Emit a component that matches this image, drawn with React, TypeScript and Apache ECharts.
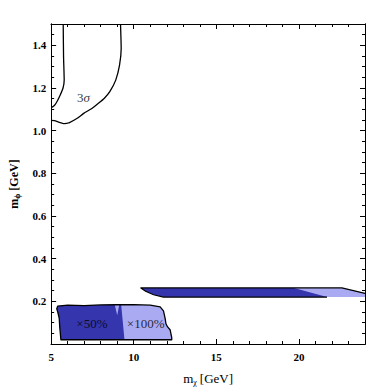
import React, { useEffect, useRef } from "react";
import * as echarts from "echarts";

// 3-sigma contours
const sigmaLeftX = [5.73, 5.75, 5.79, 5.72, 5.55, 5.38, 5.25, 5.12, 5.0];
const sigmaLeftY = [1.5, 1.35, 1.237, 1.2, 1.167, 1.14, 1.123, 1.113, 1.108];
const sigmaRightX = [9.2, 9.24, 9.14, 8.91, 8.55, 8.21, 7.86, 7.47, 6.97, 6.58, 6.08, 5.79, 5.49, 5.2, 5.0];
const sigmaRightY = [1.5, 1.385, 1.307, 1.237, 1.183, 1.151, 1.128, 1.104, 1.081, 1.058, 1.037, 1.033, 1.039, 1.047, 1.048];

// lower region (full = x100%, dark = x50%)
const lowX = [5.59, 5.52, 5.49, 5.4, 5.34, 5.4, 6.0, 7.0, 8.0, 9.0, 10.0, 11.0, 11.6, 11.8, 11.9, 11.95, 12.05, 12.2, 12.3, 12.3];
const lowY = [0.02, 0.08, 0.12, 0.15, 0.165, 0.178, 0.182, 0.18, 0.183, 0.184, 0.185, 0.182, 0.174, 0.155, 0.12, 0.095, 0.08, 0.067, 0.03, 0.02];
const lowDarkX = [5.59, 5.52, 5.49, 5.4, 5.34, 5.4, 6.0, 7.0, 8.0, 8.85, 9.0, 9.12, 9.24, 9.44];
const lowDarkY = [0.02, 0.08, 0.12, 0.15, 0.165, 0.178, 0.182, 0.18, 0.183, 0.184, 0.135, 0.183, 0.183, 0.02];

// upper band
const bandX = [10.43, 22.6, 24, 24, 11.8, 11.2, 10.72];
const bandY = [0.263, 0.263, 0.237, 0.22, 0.22, 0.231, 0.247];
const bandLightX = [19.7, 22.6, 24, 24, 21.7];
const bandLightY = [0.263, 0.263, 0.237, 0.22, 0.22];
const bandEdgeX = [21.7, 11.8, 11.2, 10.72, 10.43, 22.6, 24];
const bandEdgeY = [0.22, 0.22, 0.231, 0.247, 0.263, 0.263, 0.237];

// annotations
const labelX = [6.95, 7.47, 10.72];
const labelY = [1.155, 0.098, 0.098];
const labelText = ["{a|3}{b|σ}", "{a|×50%}", "{a|×100%}"];

const xTicks = [5, 10, 15, 20];
const yTicks = [0.2, 0.4, 0.6, 0.8, 1.0, 1.2, 1.4];

const DARK = "#3535ad";
const LIGHT = "#aaaaf2";
const FONT = "Liberation Serif";

function polySeries(xs: number[], ys: number[], fill: string, stroke: string | null, lw: number, z: number, closed = true) {
  return {
    type: "custom",
    coordinateSystem: "cartesian2d",
    xAxisIndex: 0,
    yAxisIndex: 0,
    clip: true,
    z,
    silent: true,
    data: [[xs[0], ys[0]]],
    renderItem: (params: any, api: any) => {
      if (params.dataIndex !== 0) return null;
      const pts = xs.map((x, i) => api.coord([x, ys[i]]));
      return {
        type: closed ? "polygon" : "polyline",
        shape: { points: pts },
        style: {
          fill: closed ? fill : null,
          stroke: stroke ?? null,
          lineWidth: lw,
          lineJoin: "round",
        },
      };
    },
  };
}

function lineSeries(xs: number[], ys: number[]) {
  return {
    type: "line",
    xAxisIndex: 0,
    yAxisIndex: 0,
    data: xs.map((x, i) => [x, ys[i]]),
    showSymbol: false,
    symbol: "none",
    smooth: 0.15,
    lineStyle: { color: "#000", width: 1.3 },
    z: 5,
    silent: true,
  };
}

function makeAxis(kind: "x" | "y", position: string, interval: number, len: number, labels: boolean, extra: any = {}) {
  const isX = kind === "x";
  return {
    type: "value",
    position,
    min: isX ? 5 : 0,
    max: isX ? 24 : 1.5,
    interval,
    axisLine: { show: true, onZero: false, lineStyle: { color: "#000", width: 1 } },
    axisTick: { show: true, inside: true, length: len, lineStyle: { color: "#000", width: 1 } },
    splitLine: { show: false },
    axisLabel: labels
      ? {
          show: true,
          color: "#000",
          fontFamily: FONT,
          fontWeight: "bold",
          fontSize: 11,
          margin: isX ? 7 : 5,
          formatter: isX
            ? (v: number) => (xTicks.some((t) => Math.abs(t - v) < 1e-6) ? String(v) : "")
            : (v: number) => (yTicks.some((t) => Math.abs(t - v) < 1e-6) ? v.toFixed(1) : ""),
        }
      : { show: false },
    ...extra,
  };
}

export default function App() {
  const ref = useRef<HTMLDivElement>(null);
  useEffect(() => {
    if (!ref.current) return;
    const chart = echarts.init(ref.current, undefined, { renderer: "svg" });
    const option: any = {
      animation: false,
      backgroundColor: "#fff",
      textStyle: { fontFamily: FONT },
      grid: { left: 45, top: 24, width: 320, height: 322, containLabel: false },
      xAxis: [
        makeAxis("x", "bottom", 5, 5, true, {
          name: "{m|m}{s|χ} {g|[GeV]}",
          nameLocation: "middle",
          nameGap: 27,
          nameTextStyle: {
            fontFamily: FONT,
            rich: {
              m: { fontFamily: FONT, fontSize: 13, color: "#000" },
              s: { fontFamily: FONT, fontSize: 8, color: "#000", padding: [7, 0, 0, 0] },
              g: { fontFamily: FONT, fontSize: 13, color: "#000" },
            },
          },
        }),
        makeAxis("x", "bottom", 1, 3, false),
        makeAxis("x", "top", 5, 5, false),
        makeAxis("x", "top", 1, 3, false),
      ],
      yAxis: [
        makeAxis("y", "left", 0.2, 5, true, {
          name: "{m|m}{s|ϕ} {g|[GeV]}",
          nameLocation: "middle",
          nameGap: 27,
          nameRotate: 90,
          nameTextStyle: {
            fontFamily: FONT,
            rich: {
              m: { fontFamily: FONT, fontSize: 12, fontWeight: "bold", color: "#000" },
              s: { fontFamily: FONT, fontSize: 8, fontWeight: "bold", color: "#000", padding: [7, 0, 0, 0] },
              g: { fontFamily: FONT, fontSize: 12, fontWeight: "bold", color: "#000" },
            },
          },
        }),
        makeAxis("y", "left", 0.05, 3, false),
        makeAxis("y", "right", 0.2, 5, false),
        makeAxis("y", "right", 0.05, 3, false),
      ],
      series: [
        polySeries(lowX, lowY, LIGHT, null, 0, 1),
        polySeries(lowDarkX, lowDarkY, DARK, null, 0, 2),
        polySeries(lowX, lowY, "none", "#000", 1.3, 3),
        polySeries(bandX, bandY, DARK, null, 0, 1),
        polySeries(bandLightX, bandLightY, LIGHT, null, 0, 2),
        polySeries(bandEdgeX, bandEdgeY, "none", "#000", 1.2, 3, false),
        lineSeries(sigmaLeftX, sigmaLeftY),
        lineSeries(sigmaRightX, sigmaRightY),
        {
          type: "scatter",
          xAxisIndex: 0,
          yAxisIndex: 0,
          z: 10,
          silent: true,
          symbolSize: 0,
          itemStyle: { color: "rgba(0,0,0,0)" },
          data: labelX.map((x, i) => ({ value: [x, labelY[i]], name: labelText[i] })),
          label: {
            show: true,
            position: "inside",
            formatter: (p: any) => p.name,
            color: "#000",
            rich: {
              a: { fontFamily: FONT, fontSize: 13, color: "#000" },
              b: { fontFamily: FONT, fontSize: 13, fontStyle: "italic", color: "#000" },
            },
          },
        },
      ],
    };
    chart.setOption(option);
    return () => chart.dispose();
  }, []);
  return (
    <div
      ref={ref}
      style={{ position: "absolute", left: 0, top: 0, width: 374, height: 391, background: "#fff" }}
    />
  );
}
